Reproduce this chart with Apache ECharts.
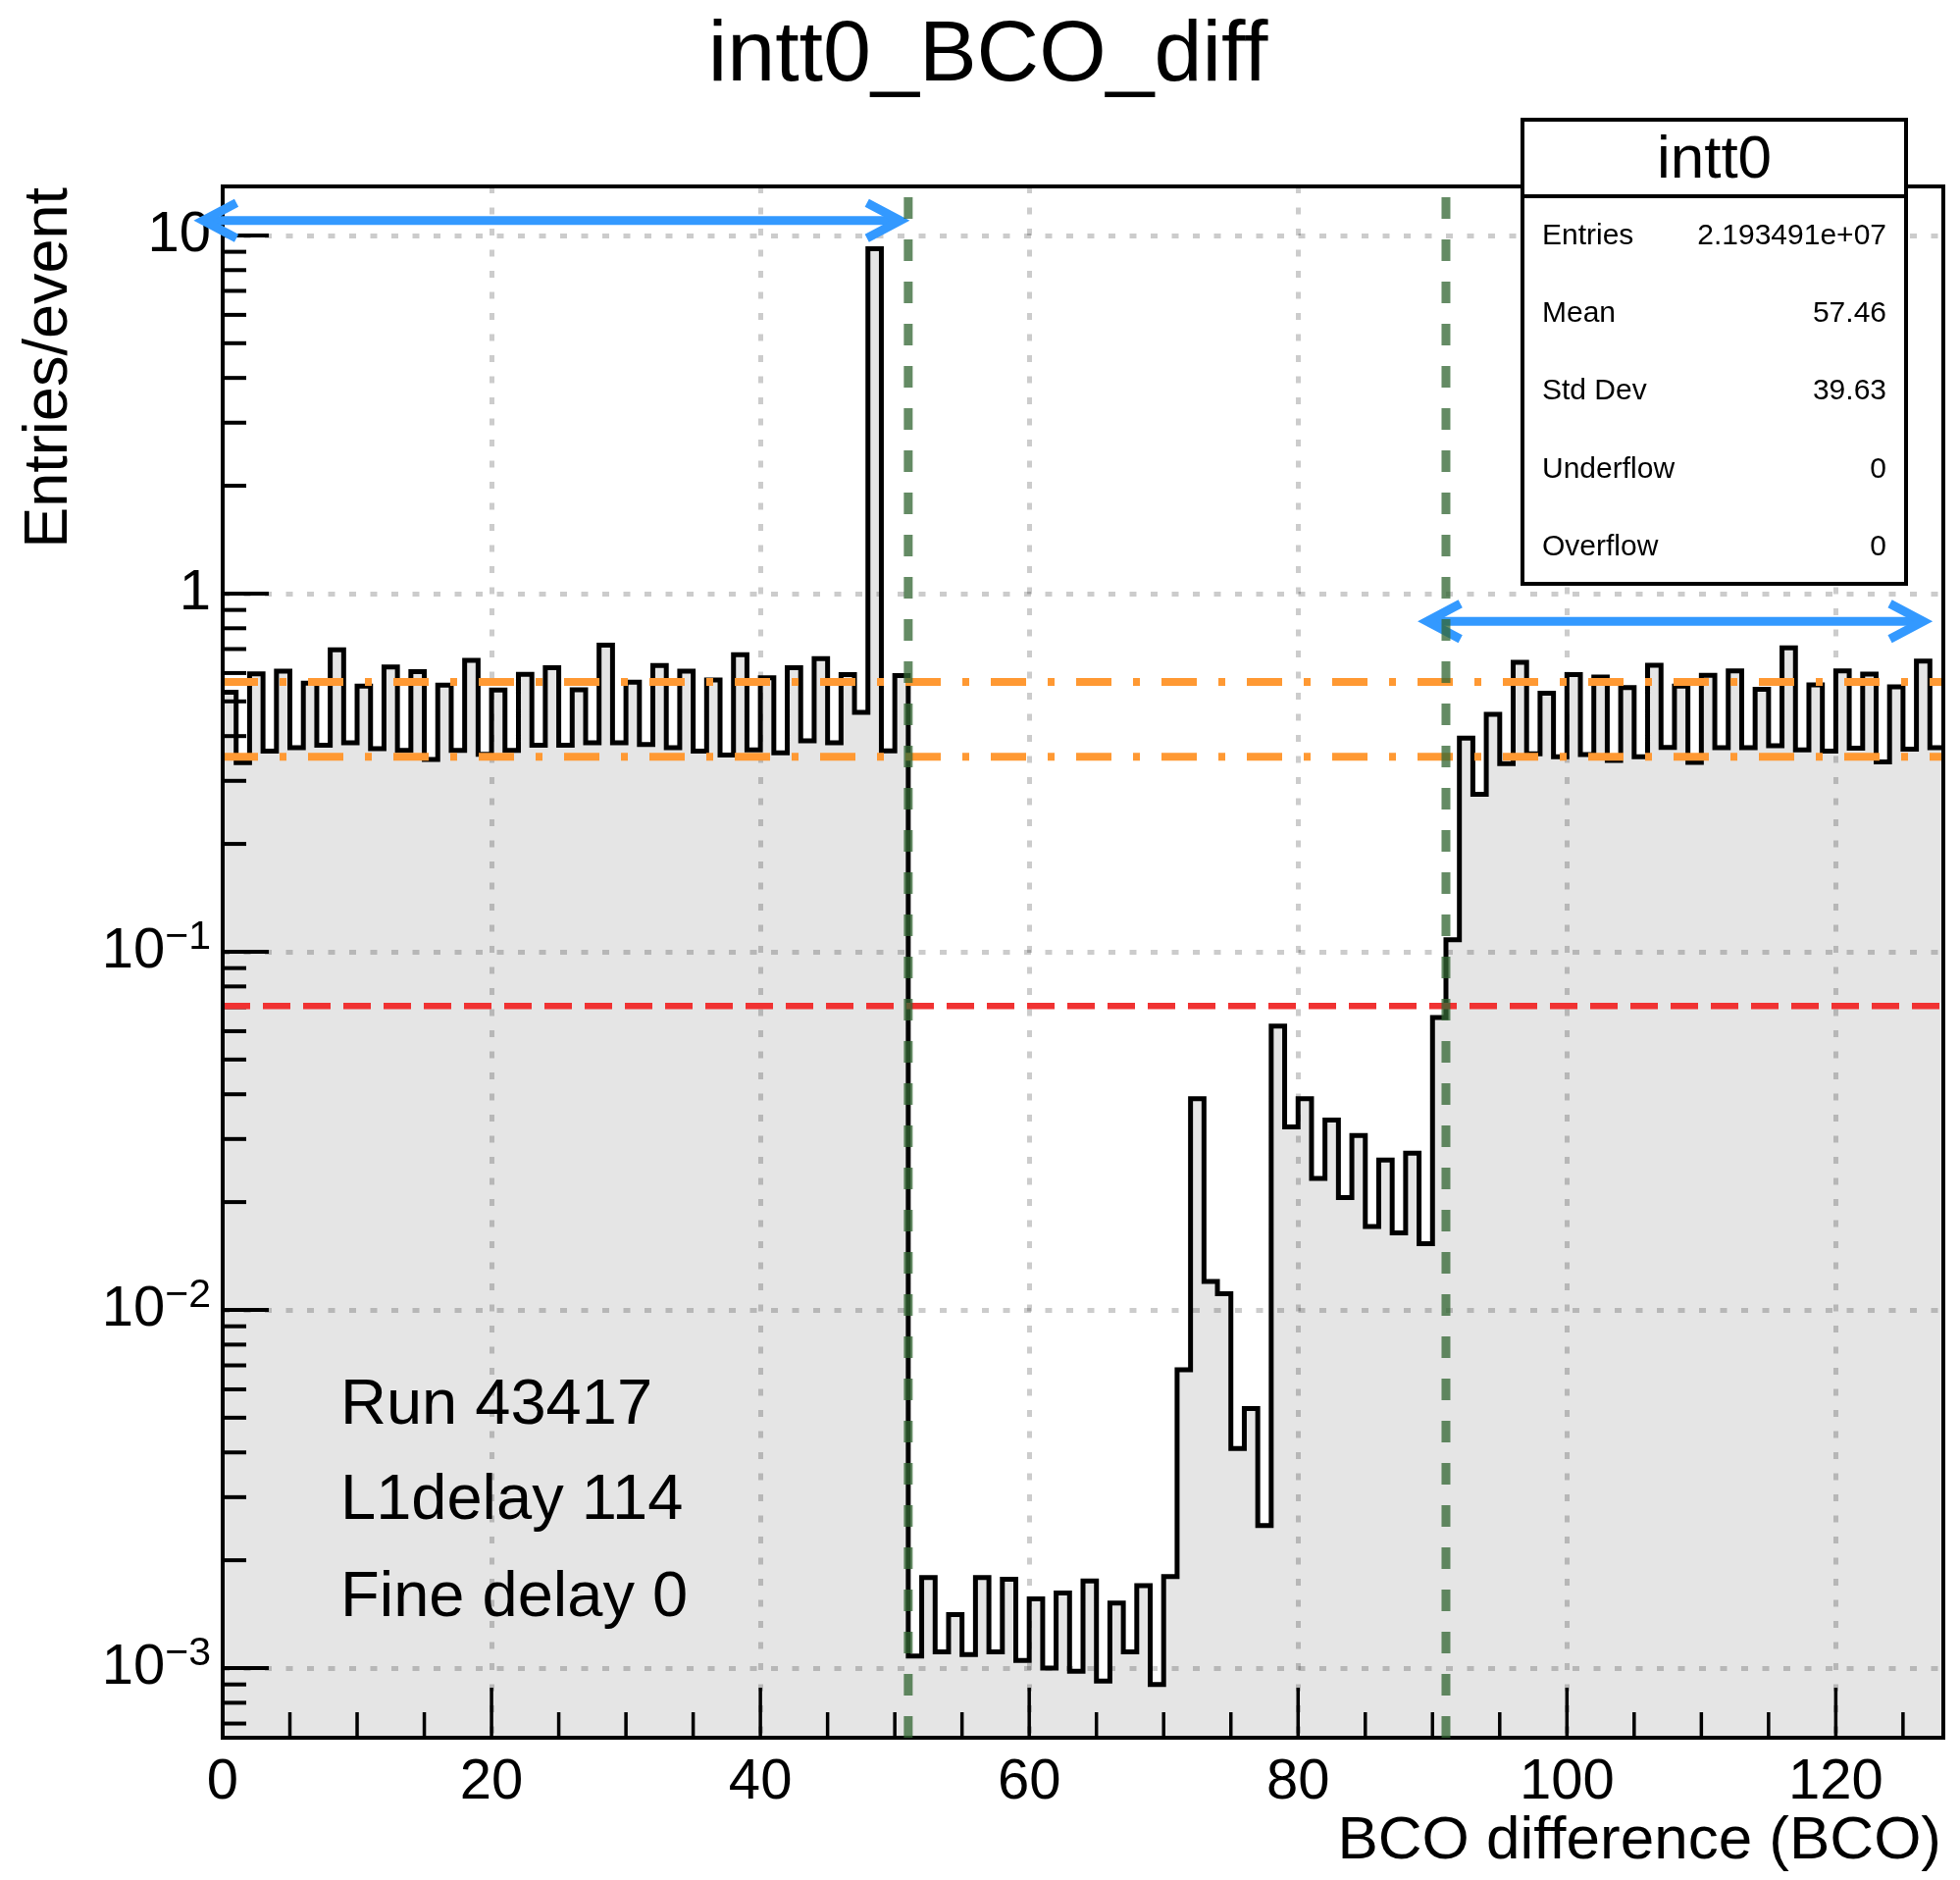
<!DOCTYPE html>
<html>
<head>
<meta charset="utf-8">
<title>intt0_BCO_diff</title>
<script src="https://cdn.jsdelivr.net/npm/echarts@6/dist/echarts.min.js"></script>
<style>
  html, body { margin: 0; padding: 0; background: #fff; }
  #main { width: 1998px; height: 1916px; }
</style>
</head>
<body>
<div id="main"></div>
<script>
// entries/event in each BCO bin (bins 0..127, width 1)
var binValues = [
  0.530, 0.337, 0.597, 0.363, 0.607, 0.371, 0.562, 0.377, 0.697, 0.383,
  0.552, 0.369, 0.624, 0.365, 0.605, 0.344, 0.555, 0.365, 0.651, 0.356,
  0.538, 0.365, 0.595, 0.377, 0.621, 0.377, 0.539, 0.383, 0.718, 0.383,
  0.566, 0.379, 0.630, 0.371, 0.607, 0.363, 0.574, 0.354, 0.675, 0.366,
  0.582, 0.359, 0.621, 0.388, 0.658, 0.383, 0.594, 0.466, 9.18, 0.364,
  0.590, 0.00108, 0.00179, 0.00111, 0.00141, 0.00109, 0.00179, 0.00111, 0.00177, 0.00105,
  0.00156, 0.00100, 0.00162, 0.00098, 0.00175, 0.00092, 0.00152, 0.00111, 0.00170, 0.00090,
  0.00180, 0.0068, 0.0389, 0.0120, 0.0111, 0.0041, 0.0053, 0.0025, 0.062, 0.0324,
  0.0389, 0.0233, 0.0339, 0.0206, 0.0307, 0.0171, 0.0262, 0.0164, 0.0274, 0.0153,
  0.0655, 0.108, 0.395, 0.275, 0.460, 0.335, 0.643, 0.357, 0.527, 0.350,
  0.594, 0.355, 0.585, 0.342, 0.546, 0.350, 0.631, 0.372, 0.552, 0.338,
  0.591, 0.371, 0.608, 0.371, 0.540, 0.376, 0.705, 0.366, 0.556, 0.363,
  0.608, 0.370, 0.596, 0.339, 0.549, 0.368, 0.648, 0.371
];

// reference lines
var orangeLevels = [0.567, 0.350];
var redLevels = [0.0705];
var greenCuts = [51, 91];
// arrows: [from x, to x, y]
var arrowSpans = [[-1.75, 50.7, 11.0], [89.3, 126.8, 0.836]];

// axes
var xMin = 0, xMax = 128;
var yMin = 6.39e-4, yMax = 13.7;
var xMajorTicks = [0, 20, 40, 60, 80, 100, 120];
var xMinorTicks = [5, 10, 15, 25, 30, 35, 45, 50, 55, 65, 70, 75, 85, 90, 95, 105, 110, 115, 125];
var yMajorTicks = [0.001, 0.01, 0.1, 1, 10];
var yMinorTicks = [
  0.0007, 0.0008, 0.0009,
  0.002, 0.003, 0.004, 0.005, 0.006, 0.007, 0.008, 0.009,
  0.02, 0.03, 0.04, 0.05, 0.06, 0.07, 0.08, 0.09,
  0.2, 0.3, 0.4, 0.5, 0.6, 0.7, 0.8, 0.9,
  2, 3, 4, 5, 6, 7, 8, 9
];

// texts
var chartTitle = 'intt0_BCO_diff';
var xTitle = 'BCO difference (BCO)';
var yTitle = 'Entries/event';
var statsTitle = 'intt0';
var statsNames = ['Entries', 'Mean', 'Std Dev', 'Underflow', 'Overflow'];
var statsValues = ['2.193491e+07', '57.46', '39.63', '0', '0'];
var runInfo = ['Run 43417', 'L1delay 114', 'Fine delay 0'];

var SANS = "'Liberation Sans', Arial, Helvetica, sans-serif";
var W = 1998, H = 1916;
var GL = 227, GR = 17, GT = 190, GB = 145;

var histData = binValues.map(function (v, i) { return [i, v]; });
histData.push([binValues.length, binValues[binValues.length - 1]]);

function hLine(color, width, dash) {
  return function (params, api) {
    var y = api.value(1);
    var a = api.coord([xMin, y]);
    var b = api.coord([xMax, y]);
    return { type: 'line', shape: { x1: a[0], y1: a[1], x2: b[0], y2: b[1] },
      style: { stroke: color, lineWidth: width, lineDash: dash, lineCap: 'butt' } };
  };
}

var graphics = [];
// frame
graphics.push({ type: 'rect', z: 5, silent: true,
  shape: { x: GL, y: GT, width: W - GL - GR, height: H - GT - GB },
  style: { fill: null, stroke: '#000', lineWidth: 4 } });
// title
graphics.push({ type: 'text', z: 5, x: 1007, y: 58,
  style: { text: chartTitle, font: '88px ' + SANS, fill: '#000', align: 'center', verticalAlign: 'middle' } });
// axis titles
graphics.push({ type: 'text', z: 5, x: 1979, y: 1877,
  style: { text: xTitle, font: '62px ' + SANS, fill: '#000', align: 'right', verticalAlign: 'middle' } });
graphics.push({ type: 'text', z: 5, x: 51, y: 191, rotation: Math.PI / 2,
  style: { text: yTitle, font: '63px ' + SANS, fill: '#000', align: 'right', verticalAlign: 'middle' } });
// run info
var runY = [1433, 1530, 1629];
runInfo.forEach(function (t, i) {
  graphics.push({ type: 'text', z: 5, x: 347, y: runY[i],
    style: { text: t, font: '65px ' + SANS, fill: '#000', align: 'left', verticalAlign: 'middle' } });
});
// stats box
var bx = 1552, by = 122, bw = 391, bh = 473;
graphics.push({ type: 'rect', z: 8, silent: true, shape: { x: bx, y: by, width: bw, height: bh },
  style: { fill: '#fff', stroke: '#000', lineWidth: 4 } });
graphics.push({ type: 'line', z: 8, silent: true, shape: { x1: bx, y1: 200, x2: bx + bw, y2: 200 },
  style: { stroke: '#000', lineWidth: 4 } });
graphics.push({ type: 'text', z: 9, x: bx + bw / 2, y: 164,
  style: { text: statsTitle, font: '62px ' + SANS, fill: '#000', align: 'center', verticalAlign: 'middle' } });
var rowY = [241, 320, 399, 479, 558];
statsNames.forEach(function (n, i) {
  graphics.push({ type: 'text', z: 9, x: 1572, y: rowY[i],
    style: { text: n, font: '30px ' + SANS, fill: '#000', align: 'left', verticalAlign: 'middle' } });
  graphics.push({ type: 'text', z: 9, x: 1923, y: rowY[i],
    style: { text: statsValues[i], font: '30px ' + SANS, fill: '#000', align: 'right', verticalAlign: 'middle' } });
});

var gridLine = { show: true, showMinLine: false, showMaxLine: false,
  lineStyle: { color: 'rgba(0,0,0,0.2)', width: 5, type: [7, 14.5] } };

var option = {
  animation: false,
  backgroundColor: '#fff',
  textStyle: { fontFamily: SANS },
  grid: { left: GL, right: GR, top: GT, bottom: GB, outerBoundsMode: 'none' },
  xAxis: {
    type: 'value', min: xMin, max: xMax, interval: 20, z: 2,
    axisLine: { show: false }, axisTick: { show: false },
    splitLine: gridLine,
    axisLabel: { showMaxLabel: false, color: '#000', fontSize: 58, fontFamily: SANS, margin: 17 }
  },
  yAxis: {
    type: 'log', logBase: 10, min: yMin, max: yMax, z: 2,
    axisLine: { show: false }, axisTick: { show: false },
    splitLine: gridLine,
    axisLabel: {
      showMinLabel: false, showMaxLabel: false, margin: 12,
      formatter: function (v) {
        var e = Math.round(Math.log10(v));
        if (e === 0) return '{b|1}';
        if (e === 1) return '{b|10}';
        return '{b|10}{s|\u2212' + (-e) + '}';
      },
      rich: {
        b: { fontSize: 58, fontFamily: SANS, color: '#000', lineHeight: 70 },
        s: { fontSize: 41, fontFamily: SANS, color: '#000', lineHeight: 41, verticalAlign: 'top' }
      }
    }
  },
  series: [
    { // fill
      type: 'line', step: 'end', data: histData, symbol: 'none', z: 1, silent: true,
      lineStyle: { width: 0 }, areaStyle: { color: '#e5e5e5', opacity: 1, origin: 'start' }
    },
    { // outline
      type: 'line', step: 'end', data: histData, symbol: 'none', z: 3, silent: true,
      lineStyle: { color: '#000', width: 5, join: 'miter' }
    },
    { // y ticks
      type: 'custom', z: 4, silent: true,
      data: yMajorTicks.map(function (v) { return [xMin, v, 1]; })
        .concat(yMinorTicks.map(function (v) { return [xMin, v, 0]; })),
      renderItem: function (params, api) {
        var p = api.coord([api.value(0), api.value(1)]);
        var len = api.value(2) ? 47 : 24;
        return { type: 'line', shape: { x1: p[0], y1: p[1], x2: p[0] + len, y2: p[1] },
          style: { stroke: '#000', lineWidth: 4 } };
      }
    },
    { // x ticks
      type: 'custom', z: 4, silent: true,
      data: xMajorTicks.map(function (v) { return [v, yMin, 1]; })
        .concat(xMinorTicks.map(function (v) { return [v, yMin, 0]; })),
      renderItem: function (params, api) {
        var p = api.coord([api.value(0), api.value(1)]);
        var len = api.value(2) ? 51 : 26;
        return { type: 'line', shape: { x1: p[0], y1: p[1], x2: p[0], y2: p[1] - len },
          style: { stroke: '#000', lineWidth: 3.5 } };
      }
    },
    {
      type: 'custom', z: 4, silent: true,
      data: orangeLevels.map(function (v) { return [xMin, v]; }),
      renderItem: hLine('#ff9933', 8, [36, 22, 7, 22])
    },
    {
      type: 'custom', z: 4, silent: true,
      data: redLevels.map(function (v) { return [xMin, v]; }),
      renderItem: hLine('#f03232', 6.5, [28, 13])
    },
    { // arrows
      type: 'custom', z: 6, silent: true, clip: false,
      data: arrowSpans.map(function (s) { return [s[0], s[2], s[1]]; }),
      renderItem: function (params, api) {
        var a = api.coord([api.value(0), api.value(1)]);
        var b = api.coord([api.value(2), api.value(1)]);
        var st = { stroke: '#3399ff', lineWidth: 9, fill: null, lineJoin: 'miter' };
        return { type: 'group', children: [
          { type: 'line', shape: { x1: a[0] + 4, y1: a[1], x2: b[0] - 4, y2: b[1] }, style: st },
          { type: 'polyline', shape: { points: [[a[0] + 38, a[1] - 18], [a[0] + 4, a[1]], [a[0] + 38, a[1] + 18]] }, style: st },
          { type: 'polyline', shape: { points: [[b[0] - 38, b[1] - 18], [b[0] - 4, b[1]], [b[0] - 38, b[1] + 18]] }, style: st }
        ] };
      }
    },
    { // cut lines
      type: 'custom', z: 7, silent: true,
      data: greenCuts.map(function (x) { return [x, yMin]; }),
      renderItem: function (params, api) {
        var x = api.value(0);
        var a = api.coord([x, yMin]);
        var b = api.coord([x, yMax]);
        return { type: 'line', shape: { x1: a[0], y1: a[1], x2: b[0], y2: b[1] },
          style: { stroke: 'rgba(51,102,51,0.76)', lineWidth: 9, lineDash: [22, 21], lineCap: 'butt' } };
      }
    }
  ],
  graphic: { elements: graphics }
};

var chart = echarts.init(document.getElementById('main'), null, { renderer: 'canvas' });
chart.setOption(option);
</script>
</body>
</html>
